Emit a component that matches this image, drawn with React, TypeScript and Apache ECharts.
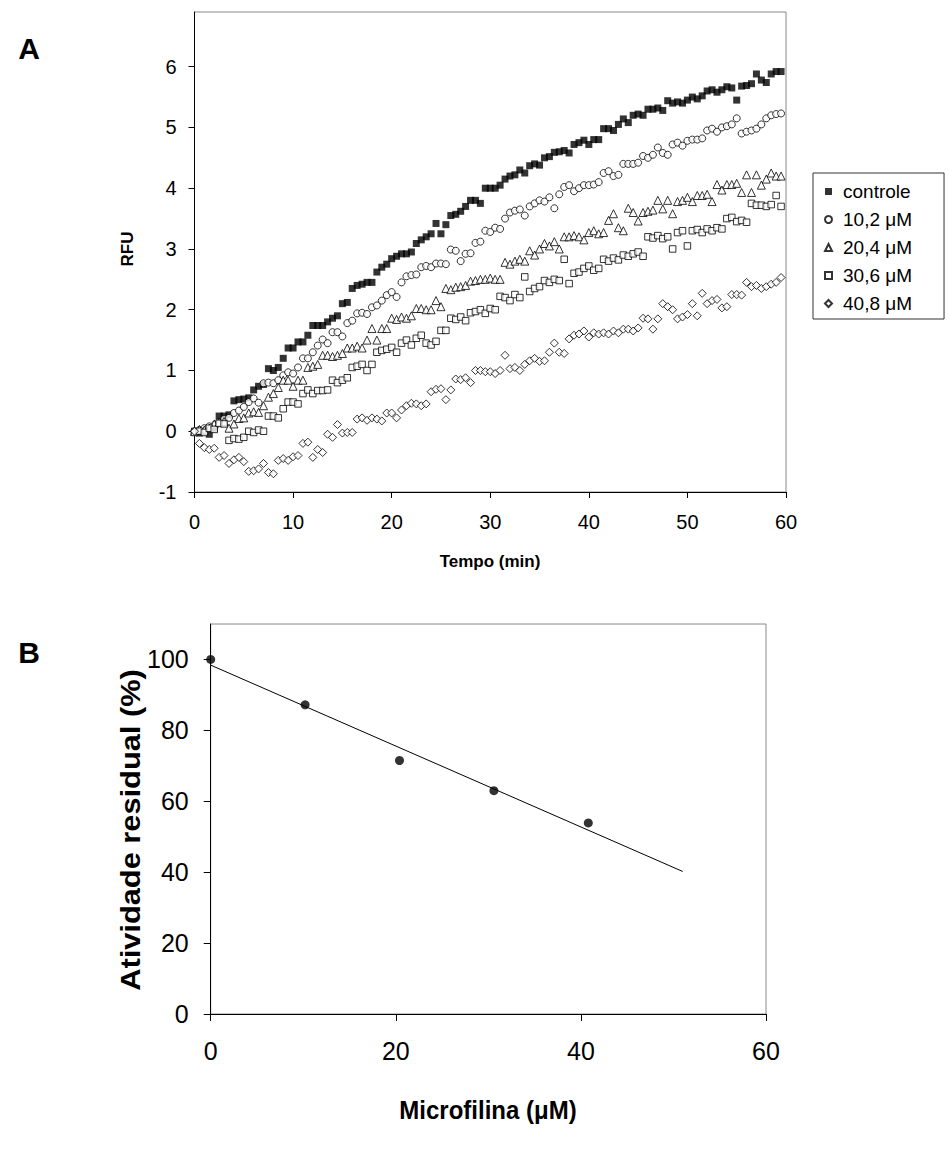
import React, { useEffect, useRef } from "react";
import * as echarts from "echarts";

// ---------- Panel A data (RFU vs time, min) ----------
const timeMin = [
  0, 0.5, 1, 1.5, 2, 2.5, 3, 3.5, 4, 4.5,
  5, 5.5, 6, 6.5, 7, 7.5, 8, 8.5, 9, 9.5,
  10, 10.5, 11, 11.5, 12, 12.5, 13, 13.5, 14, 14.5,
  15, 15.5, 16, 16.5, 17, 17.5, 18, 18.5, 19, 19.5,
  20, 20.5, 21, 21.5, 22, 22.5, 23, 23.5, 24, 24.5,
  25, 25.5, 26, 26.5, 27, 27.5, 28, 28.5, 29, 29.5,
  30, 30.5, 31, 31.5, 32, 32.5, 33, 33.5, 34, 34.5,
  35, 35.5, 36, 36.5, 37, 37.5, 38, 38.5, 39, 39.5,
  40, 40.5, 41, 41.5, 42, 42.5, 43, 43.5, 44, 44.5,
  45, 45.5, 46, 46.5, 47, 47.5, 48, 48.5, 49, 49.5,
  50, 50.5, 51, 51.5, 52, 52.5, 53, 53.5, 54, 54.5,
  55, 55.5, 56, 56.5, 57, 57.5, 58, 58.5, 59, 59.5,
];

const controle = [
  0, -0.03, 0, -0.05, 0.05, 0.25, 0.25, 0.27, 0.5, 0.52,
  0.53, 0.55, 0.68, 0.74, 0.77, 1.03, 1.0, 1.05, 1.2, 1.37,
  1.37, 1.47, 1.47, 1.58, 1.74, 1.74, 1.74, 1.8, 1.86, 1.9,
  2.1, 2.12, 2.35, 2.4, 2.42, 2.45, 2.45, 2.62, 2.7, 2.75,
  2.84, 2.88, 2.92, 2.92, 2.95, 3.09, 3.15, 3.2, 3.25, 3.42,
  3.25, 3.4, 3.55, 3.57, 3.62, 3.7, 3.8, 3.8, 3.75, 4.0,
  4.0, 4.0, 4.05, 4.15, 4.2, 4.22, 4.3, 4.25, 4.37, 4.4,
  4.38, 4.5, 4.52, 4.59, 4.6, 4.62, 4.58, 4.72, 4.75, 4.79,
  4.72, 4.8, 4.8, 4.98, 4.98, 4.95, 5.05, 5.14, 5.08, 5.2,
  5.22, 5.2, 5.3, 5.3, 5.32, 5.28, 5.44, 5.4, 5.42, 5.4,
  5.45, 5.5, 5.47, 5.52, 5.6, 5.62, 5.58, 5.62, 5.67, 5.65,
  5.45, 5.68, 5.69, 5.72, 5.88, 5.78, 5.74, 5.88, 5.92, 5.92,
];

const c10_2 = [
  0, 0.02, 0.05, 0.08, 0.1, 0.15, 0.2, 0.22, 0.3, 0.34,
  0.4, 0.48, 0.54, 0.47, 0.79, 0.8, 0.79, 0.84, 0.92, 0.97,
  0.95, 1.05, 1.2, 1.2, 1.3, 1.41, 1.51, 1.45, 1.63, 1.63,
  1.56, 1.78, 1.82, 1.94, 1.95, 1.93, 2.04, 2.07, 2.15, 2.24,
  2.29, 2.21, 2.45, 2.55, 2.57, 2.58, 2.7, 2.72, 2.7, 2.76,
  2.76, 2.75, 2.99, 2.97, 2.8, 2.92, 2.93, 3.1, 3.12, 3.3,
  3.28, 3.35, 3.33, 3.5, 3.6, 3.63, 3.65, 3.55, 3.7, 3.75,
  3.8, 3.78, 3.85, 3.67, 3.9, 4.02, 4.05, 3.95, 4.0, 4.05,
  4.05, 4.06, 4.1, 4.25, 4.28, 4.2, 4.22, 4.4, 4.4, 4.4,
  4.42, 4.53, 4.5, 4.55, 4.67, 4.58, 4.55, 4.72, 4.75, 4.7,
  4.78, 4.8, 4.8, 4.82, 4.95, 4.98, 4.93, 5.0, 5.02, 5.05,
  5.15, 4.9, 4.93, 4.95, 4.98, 5.05, 5.15, 5.2, 5.22, 5.23,
];

const c20_4 = [
  0, 0.03, 0.02, 0.05, 0.12, 0.15, 0.16, 0.05, 0.12, 0.21,
  0.22, 0.3, 0.32, 0.31, 0.42, 0.56, 0.62, 0.72, 0.84, 0.84,
  0.74, 0.84, 0.84, 1.05, 1.07, 1.1, 1.25, 1.25, 1.23, 1.25,
  1.28, 1.37, 1.37, 1.4, 1.37, 1.5, 1.69, 1.5, 1.69, 1.69,
  1.86, 1.84, 1.88, 1.86, 1.9, 2.02, 2.02, 2.0, 2.0, 2.15,
  2.05, 2.35, 2.33, 2.37, 2.38, 2.4, 2.47, 2.48, 2.5, 2.5,
  2.52, 2.5, 2.5, 2.78, 2.75, 2.8, 2.83, 2.8, 2.97, 2.9,
  3.0, 3.09, 3.05, 3.12, 3.0, 3.2, 3.2, 3.22, 3.2, 3.15,
  3.27, 3.3, 3.25, 3.27, 3.47, 3.58, 3.35, 3.3, 3.67, 3.6,
  3.46, 3.6, 3.62, 3.64, 3.8, 3.66, 3.8, 3.58, 3.78, 3.8,
  3.85, 3.78, 3.88, 3.88, 3.9, 3.78, 4.06, 3.97, 4.06, 4.06,
  4.08, 3.93, 4.22, 3.93, 4.22, 4.05, 4.15, 4.25, 4.2, 4.2,
];

const c30_6 = [
  -0.02, 0.0, -0.02, 0.05, 0.03, 0.13, 0.12, -0.15, -0.12, -0.13,
  -0.1, 0.0, -0.02, 0.02, 0.0, 0.25, 0.25, 0.22, 0.37, 0.48,
  0.48, 0.45, 0.62, 0.68, 0.62, 0.67, 0.67, 0.68, 0.84, 0.8,
  0.84, 0.88, 1.05, 1.07, 1.1, 1.0, 1.1, 1.3, 1.33, 1.35,
  1.38, 1.3, 1.45, 1.5, 1.42, 1.53, 1.58, 1.45, 1.42, 1.48,
  1.66, 1.66, 1.86, 1.84, 1.88, 1.82, 1.95, 1.97, 2.0, 1.94,
  2.02, 2.0, 2.22, 2.2, 2.15, 2.25, 2.2, 2.54, 2.3, 2.35,
  2.38, 2.48, 2.45, 2.5, 2.48, 2.83, 2.43, 2.6, 2.62, 2.68,
  2.72, 2.65, 2.68, 2.83, 2.8, 2.85, 2.82, 2.9, 2.88, 2.92,
  2.95, 2.88, 3.2, 3.18, 3.22, 3.17, 3.2, 3.0, 3.27, 3.3,
  3.05, 3.3, 3.32, 3.27, 3.33, 3.3, 3.35, 3.33, 3.5, 3.52,
  3.45, 3.47, 3.44, 3.75, 3.72, 3.72, 3.7, 3.73, 3.88, 3.7,
];

const c40_8 = [
  0, -0.2, -0.27, -0.3, -0.28, -0.43, -0.4, -0.53, -0.47, -0.43,
  -0.5, -0.66, -0.65, -0.62, -0.53, -0.68, -0.7, -0.48, -0.45, -0.48,
  -0.42, -0.4, -0.2, -0.18, -0.43, -0.3, -0.35, -0.05, -0.1, 0.11,
  -0.03, -0.02, -0.02, 0.2, 0.22, 0.18, 0.22, 0.2, 0.17, 0.3,
  0.3, 0.22, 0.35, 0.42, 0.46, 0.45, 0.42, 0.45, 0.65, 0.69,
  0.7, 0.52, 0.68, 0.86, 0.85, 0.88, 0.8, 1.0, 1.0, 0.98,
  0.98, 0.95, 1.0, 1.25, 1.03, 1.05, 1.0, 1.1, 1.16, 1.2,
  1.15, 1.16, 1.3, 1.45, 1.3, 1.28, 1.52, 1.58, 1.6, 1.65,
  1.55, 1.62, 1.6, 1.62, 1.6, 1.65, 1.62, 1.68, 1.68, 1.65,
  1.7, 1.86, 1.85, 1.68, 1.85, 2.1, 2.05, 2.0, 1.85, 1.88,
  1.92, 2.1, 1.9, 2.27, 2.1, 2.15, 2.17, 2.03, 2.05, 2.25,
  2.25, 2.24, 2.45, 2.38, 2.4, 2.35, 2.38, 2.42, 2.45, 2.53,
];

const seriesNamesA = ["controle", "10,2 μM", "20,4 μM", "30,6 μM", "40,8 μM"];
const rfuTicks = [-1, 0, 1, 2, 3, 4, 5, 6];

// ---------- Panel B data ----------
const microfilina = [0, 10.2, 20.4, 30.6, 40.8];
const atividade = [100, 87.2, 71.5, 63.0, 53.9];
const fitX = [0, 51];
const fitY = [98.4, 40.2];
const atividadeTicks = [0, 20, 40, 60, 80, 100];

const FONT = "'Liberation Sans', Arial, Helvetica, sans-serif";

export default function App() {
  const ref = useRef<HTMLDivElement>(null);

  useEffect(() => {
    if (!ref.current) return;
    const chart = echarts.init(ref.current, undefined, { renderer: "svg" });

    const pair = (ys: number[]) => ys.map((y, i) => [timeMin[i], y]);
    const hollow = { color: "#ffffff", borderColor: "#000000", borderWidth: 1 };

    const option: any = {
      animation: false,
      backgroundColor: "#ffffff",
      textStyle: { fontFamily: FONT, color: "#000" },
      grid: [
        {
          left: 194.5,
          top: 12,
          width: 591.5,
          height: 480,
          show: true,
          borderColor: "#888888",
          borderWidth: 1,
          backgroundColor: "transparent",
        },
        {
          left: 210.7,
          top: 624,
          width: 555.3,
          height: 390,
          show: true,
          borderColor: "#888888",
          borderWidth: 1,
          backgroundColor: "transparent",
        },
      ],
      xAxis: [
        {
          gridIndex: 0,
          type: "value",
          min: 0,
          max: 60,
          interval: 10,
          axisLine: { onZero: false, lineStyle: { color: "#000", width: 1 } },
          axisTick: { inside: false, length: 6, lineStyle: { color: "#000" } },
          axisLabel: { fontSize: 20, color: "#000", margin: 20, fontFamily: FONT },
          splitLine: { show: false },
        },
        {
          gridIndex: 1,
          type: "value",
          min: 0,
          max: 60,
          interval: 20,
          axisLine: { onZero: false, lineStyle: { color: "#000", width: 1 } },
          axisTick: { inside: false, length: 7, lineStyle: { color: "#000" } },
          axisLabel: { fontSize: 25, color: "#000", margin: 24, fontFamily: FONT },
          splitLine: { show: false },
        },
      ],
      yAxis: [
        {
          gridIndex: 0,
          type: "value",
          min: -1,
          max: 6.9,
          axisLine: { onZero: false, lineStyle: { color: "#000", width: 1 } },
          axisTick: { inside: false, length: 6, customValues: rfuTicks, lineStyle: { color: "#000" } },
          axisLabel: { fontSize: 20, color: "#000", margin: 18, customValues: rfuTicks, fontFamily: FONT },
          splitLine: { show: false },
        },
        {
          gridIndex: 1,
          type: "value",
          min: 0,
          max: 110,
          axisLine: { onZero: false, lineStyle: { color: "#000", width: 1 } },
          axisTick: { inside: false, length: 7, customValues: atividadeTicks, lineStyle: { color: "#000" } },
          axisLabel: { fontSize: 25, color: "#000", margin: 22, customValues: atividadeTicks, fontFamily: FONT },
          splitLine: { show: false },
        },
      ],
      legend: {
        data: seriesNamesA,
        orient: "vertical",
        left: 813,
        top: 173,
        padding: [9, 32, 6, 11],
        itemGap: 9,
        itemWidth: 7,
        itemHeight: 7,
        borderColor: "#333",
        borderWidth: 1,
        borderRadius: 0,
        textStyle: { fontSize: 19, color: "#000", fontFamily: FONT, padding: [0, 0, 0, 6] },
      },
      graphic: [
        { type: "text", x: 29, y: 48, style: { text: "A", font: `bold 30px ${FONT}`, fill: "#000", align: "center", verticalAlign: "middle" } },
        { type: "text", x: 29, y: 652, style: { text: "B", font: `bold 30px ${FONT}`, fill: "#000", align: "center", verticalAlign: "middle" } },
        { type: "text", x: 127, y: 249, rotation: Math.PI / 2, style: { text: "RFU", font: `bold 17px ${FONT}`, fill: "#000", align: "center", verticalAlign: "middle" } },
        { type: "text", x: 490, y: 561, style: { text: "Tempo (min)", font: `bold 17px ${FONT}`, fill: "#000", align: "center", verticalAlign: "middle" } },
        { type: "text", x: 130, y: 830, rotation: Math.PI / 2, scaleX: 1.1, style: { text: "Atividade residual (%)", font: `bold 28px ${FONT}`, fill: "#000", align: "center", verticalAlign: "middle" } },
        { type: "text", x: 488, y: 1110, scaleY: 1.1, style: { text: "Microfilina (μM)", font: `bold 24px ${FONT}`, fill: "#000", align: "center", verticalAlign: "middle" } },
      ],
      series: [
        {
          name: seriesNamesA[0], type: "scatter", xAxisIndex: 0, yAxisIndex: 0,
          symbol: "rect", symbolSize: 7, data: pair(controle),
          itemStyle: { color: "#000000", borderWidth: 0 },
        },
        {
          name: seriesNamesA[1], type: "scatter", xAxisIndex: 0, yAxisIndex: 0,
          symbol: "circle", symbolSize: 7, data: pair(c10_2), itemStyle: hollow,
        },
        {
          name: seriesNamesA[2], type: "scatter", xAxisIndex: 0, yAxisIndex: 0,
          symbol: "triangle", symbolSize: 8, data: pair(c20_4), itemStyle: hollow,
        },
        {
          name: seriesNamesA[3], type: "scatter", xAxisIndex: 0, yAxisIndex: 0,
          symbol: "rect", symbolSize: 6.5, data: pair(c30_6), itemStyle: hollow,
        },
        {
          name: seriesNamesA[4], type: "scatter", xAxisIndex: 0, yAxisIndex: 0,
          symbol: "diamond", symbolSize: 8, data: pair(c40_8), itemStyle: hollow,
        },
        {
          name: "ajuste", type: "line", xAxisIndex: 1, yAxisIndex: 1,
          data: fitX.map((x, i) => [x, fitY[i]]), showSymbol: false, symbol: "none",
          lineStyle: { color: "#000", width: 1 }, z: 2,
        },
        {
          name: "Atividade residual", type: "scatter", xAxisIndex: 1, yAxisIndex: 1,
          symbol: "circle", symbolSize: 9, data: microfilina.map((x, i) => [x, atividade[i]]),
          itemStyle: { color: "#000" }, z: 3,
        },
      ],
    };

    chart.setOption(option);
    return () => chart.dispose();
  }, []);

  return (
    <div
      ref={ref}
      style={{ position: "absolute", left: 0, top: 0, width: 949, height: 1166, background: "#fff" }}
    />
  );
}
